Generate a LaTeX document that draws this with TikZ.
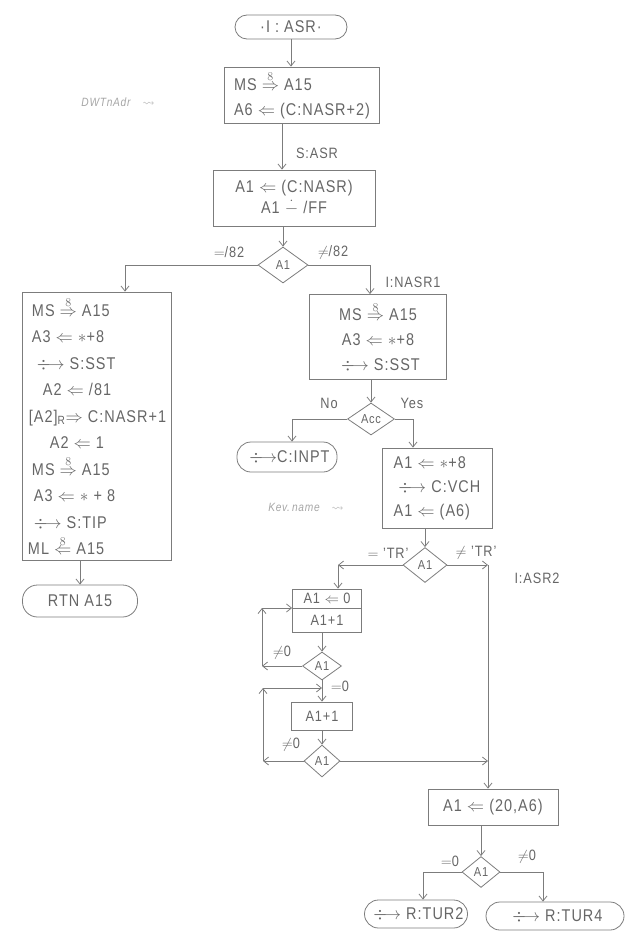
\documentclass[tikz,border=0pt]{standalone}
\usepackage{amsmath,amssymb}
\usepackage{fontspec}
\setmainfont{Liberation Sans}[FakeStretch=0.85,LetterSpace=6]
\usetikzlibrary{shapes.geometric,arrows.meta}
\definecolor{pen}{HTML}{7C7C7C}
\definecolor{ink}{HTML}{666666}
\definecolor{faint}{HTML}{A6A6A6}
\newcommand\darr{\mathrel{\rlap{$\mkern5mu\div$}\longrightarrow}}
\newcommand\rto[1]{\mathrel{\overset{#1}{\Rightarrow}}}
\newcommand\lto[1]{\mathrel{\overset{#1}{\Leftarrow}}}
\newcommand\dmin{\mathrel{\dot{-}}}
\newcommand\boxfont{\fontsize{17}{25}\selectfont}
\newcommand\decfont{\fontsize{13}{15}\selectfont}
\newcommand\lblfont{\fontsize{15}{17}\selectfont}
\newcommand\notefont{\fontsize{12}{14}\selectfont\itshape}
\tikzset{
 line/.style={draw=pen, line width=0.8pt},
 arr/.style={line, -{Straight Barb[length=5pt,width=8pt]}},
 box/.style={draw=pen, line width=0.8pt, text=ink, inner sep=2pt, font=\boxfont, align=center},
 term/.style={draw=pen, line width=0.8pt, text=ink, inner sep=2pt, font=\boxfont},
 dec/.style={draw=pen, line width=0.8pt, diamond, aspect=1.4, inner sep=0pt, text=ink, font=\decfont},
 lbl/.style={text=ink, font=\lblfont, inner sep=1pt},
 note/.style={text=faint, font=\notefont, inner sep=1pt},
}
\begin{document}
\begin{tikzpicture}[x=1pt,y=-1pt]
\useasboundingbox (0,0) rectangle (626,934);

% top
\node[term, rounded corners=12pt, minimum width=112pt, minimum height=24pt] (start) at (291,27) {·I : ASR·};
\node[box, align=left, minimum width=155pt, minimum height=56pt] (b1) at (302,95) {MS $\rto{8}$ A15\\A6 $\Leftarrow$ (C:NASR+2)};
\node[note] (n1) at (118,102) {DWTnAdr\quad$\rightsquigarrow$};
\node[box, minimum width=162pt, minimum height=56pt, font=\fontsize{17}{21}\selectfont] (b2) at (294,198) {A1 $\Leftarrow$ (C:NASR)\\A1 $\dmin$ /FF};
\node[lbl] (lsasr) at (317,153) {S:ASR};
\node[dec, minimum width=50pt, minimum height=36pt] (d1) at (283,265) {A1};
\node[lbl] (leq82) at (229,252) {$=$/82};
\node[lbl] (lne82) at (333,252) {$\neq$/82};
\node[lbl] (lnasr1) at (413,282) {I:NASR1};

% left column
\node[box, align=left, minimum width=149pt, minimum height=268pt, font=\fontsize{17}{26.5}\selectfont] (lb) at (97,426) {%
\hspace{4pt}MS $\rto{8}$ A15\\
\hspace{4pt}A3 $\Leftarrow$ $\ast$+8\\
\hspace{4pt}$\darr$ S:SST\\
\hspace{15pt}A2 $\Leftarrow$ /81\\
\hspace{1pt}[A2]\textsubscript{R}$\Rightarrow$ C:NASR+1\\
\hspace{22pt}A2 $\Leftarrow$ 1\\
\hspace{4pt}MS $\rto{8}$ A15\\
\hspace{6pt}A3 $\Leftarrow$ $\ast$ + 8\\
\hspace{1pt}$\darr$ S:TIP\\
ML $\lto{8}$ A15};
\node[term, rounded corners=15pt, minimum width=115pt, minimum height=32pt] (rtn) at (80,601) {RTN A15};

% right column
\node[box, minimum width=137pt, minimum height=85pt] (rb) at (378,337) {MS $\rto{8}$ A15\\A3 $\Leftarrow$ $\ast$+8\\$\darr$ S:SST};
\node[dec, minimum width=47pt, minimum height=32pt] (acc) at (371,419) {Acc};
\node[lbl] (lno) at (329,403) {No};
\node[lbl] (lyes) at (412,403) {Yes};
\node[term, rounded corners=14pt, minimum width=100pt, minimum height=30pt] (inpt) at (287,457) {$\darr$C:INPT};
\node[box, align=left, minimum width=110pt, minimum height=80pt, font=\fontsize{17}{24}\selectfont] (b3) at (437,488) {A1 $\Leftarrow$ $\ast$+8\\$\darr$ C:VCH\\A1 $\Leftarrow$ (A6)};
\node[note] (n2) at (306,507) {Kev.\,name\quad$\rightsquigarrow$};
\node[dec, minimum width=44pt, minimum height=35pt] (trd) at (425,565) {A1};
\node[lbl] (ltr) at (388,553) {$=$ 'TR'};
\node[lbl] (lntr) at (476,553) {$\neq$ 'TR'};
\node[lbl] (lasr2) at (537,578) {I:ASR2};

% loops
\node[box, minimum width=69pt, minimum height=19pt, font=\fontsize{15}{17}\selectfont, inner sep=0pt] (b4a) at (327,598.5) {A1 $\Leftarrow$ 0};
\node[box, minimum width=69pt, minimum height=24pt, font=\fontsize{15}{17}\selectfont, inner sep=0pt] (b4b) at (327,620) {A1+1};
\node[dec, minimum width=39pt, minimum height=28pt] (d2) at (322,666) {A1};
\node[lbl] (lne0a) at (282,653) {$\neq$0};
\node[lbl] (leq0a) at (340,686) {$=$0};
\node[box, minimum width=61pt, minimum height=28pt, font=\fontsize{15}{17}\selectfont, inner sep=0pt] (b5) at (322,716) {A1+1};
\node[dec, minimum width=36pt, minimum height=32pt] (d3) at (322,761) {A1};
\node[lbl] (lne0b) at (291,745) {$\neq$0};

% bottom
\node[box, minimum width=130pt, minimum height=36pt] (b6) at (493,807) {A1 $\Leftarrow$ (20,A6)};
\node[dec, minimum width=38pt, minimum height=31pt] (d4) at (481,872) {A1};
\node[lbl] (leq0c) at (450,861) {$=$0};
\node[lbl] (lne0c) at (527,857) {$\neq$0};
\node[term, rounded corners=14pt, minimum width=103pt, minimum height=28pt] (t2) at (416,914) {$\darr$ R:TUR2};
\node[term, rounded corners=14pt, minimum width=138pt, minimum height=28pt] (t4) at (555,916) {$\darr$ R:TUR4};

% coordinates
\coordinate (cTL) at (338,565);
\coordinate (cTR) at (488,565);
\coordinate (l1a) at (262,666);
\coordinate (l1b) at (262,608);
\coordinate (l2a) at (263,761);
\coordinate (l2b) at (263,688);
\coordinate (l2c) at (322,688);

% connectors
\draw[arr] (start.south) -- (start.south |- b1.north);
\draw[arr] ([xshift=-20pt]b1.south) -- ([xshift=-20pt]b1.south |- b2.north);
\draw[arr] (b2.south -| d1.north) -- (d1.north);
\draw[arr] (d1.west) -| ([xshift=28pt]lb.north);
\draw[arr] (d1.east) -| ([xshift=-8pt]rb.north);
\draw[arr] (lb.south -| rtn.north) -- (rtn.north);
\draw[arr] (rb.south -| acc.north) -- (acc.north);
\draw[arr] (acc.west) -| ([xshift=5pt]inpt.north);
\draw[arr] (acc.east) -| ([xshift=-24pt]b3.north);
\draw[arr] (b3.south -| trd.north) -- (trd.north);
\draw[arr] (trd.west) -- (cTL);
\draw[arr] (cTL) -- (cTL |- b4a.north);
\draw[arr] (trd.east) -- (cTR);
\draw[arr] (cTR) -- (cTR |- b6.north);
\draw[arr] (b4b.south -| d2.north) -- (d2.north);
\draw[arr] (d2.west) -- (l1a);
\draw[arr] (l1a) -- (l1b);
\draw[arr] (l1b) -- (l1b -| b4b.west);
\draw[arr] (d2.south) -- (b5.north);
\draw[arr] (b5.south) -- (d3.north);
\draw[arr] (d3.west) -- (l2a);
\draw[arr] (l2a) -- (l2b);
\draw[arr] (l2b) -- (l2c);
\draw[arr] (d3.east) -- (d3.east -| cTR);
\draw[arr] (b6.south -| d4.north) -- (d4.north);
\draw[arr] (d4.west) -| ([xshift=7pt]t2.north);
\draw[arr] (d4.east) -| ([xshift=-12pt]t4.north);
\end{tikzpicture}
\end{document}
